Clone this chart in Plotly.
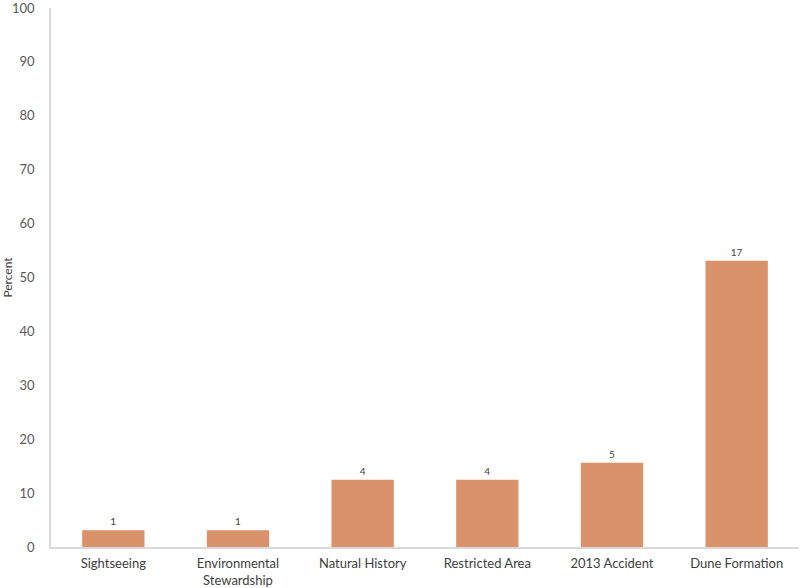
import plotly.graph_objects as go

categories = ["Sightseeing", "Environmental<br>Stewardship", "Natural History",
              "Restricted Area", "2013 Accident", "Dune Formation"]
counts = [1, 1, 4, 4, 5, 17]
percents = [3.125, 3.125, 12.5, 12.5, 15.625, 53.125]
y_ticks = [0, 10, 20, 30, 40, 50, 60, 70, 80, 90, 100]

fig = go.Figure()
fig.add_trace(go.Bar(
    x=categories, y=percents,
    text=[str(c) for c in counts],
    textposition="outside",
    textfont=dict(size=10, color="#404040", family="Lato"),
    marker=dict(color="#D9926A", line=dict(width=0)),
    width=0.5, cliponaxis=False,
))
fig.update_layout(
    width=803, height=588,
    margin=dict(l=51, r=4, t=8, b=41, autoexpand=False),
    plot_bgcolor="white", paper_bgcolor="white",
    showlegend=False,
    font=dict(family="Lato", color="#595959", size=13),
    xaxis=dict(showline=True, linecolor="#d9d9d9", linewidth=1.5, ticks="",
               showgrid=False, automargin=False, ticklabelstandoff=4,
               tickfont=dict(size=13, color="#404040")),
    yaxis=dict(range=[0, 100], tickmode="array", tickvals=y_ticks,
               showline=True, linecolor="#d9d9d9", ticklabeloverflow="allow",
               linewidth=1.5, showgrid=False, zeroline=False, ticks="",
               ticklabelstandoff=12, automargin=False, autorange=False,
               title=dict(text="Percent", font=dict(size=12, color="#404040"), standoff=8),
               tickfont=dict(size=13, color="#595959")),
)
fig.write_html("out.html", config={"displayModeBar": False},
               post_script="document.body.style.margin='0';")
